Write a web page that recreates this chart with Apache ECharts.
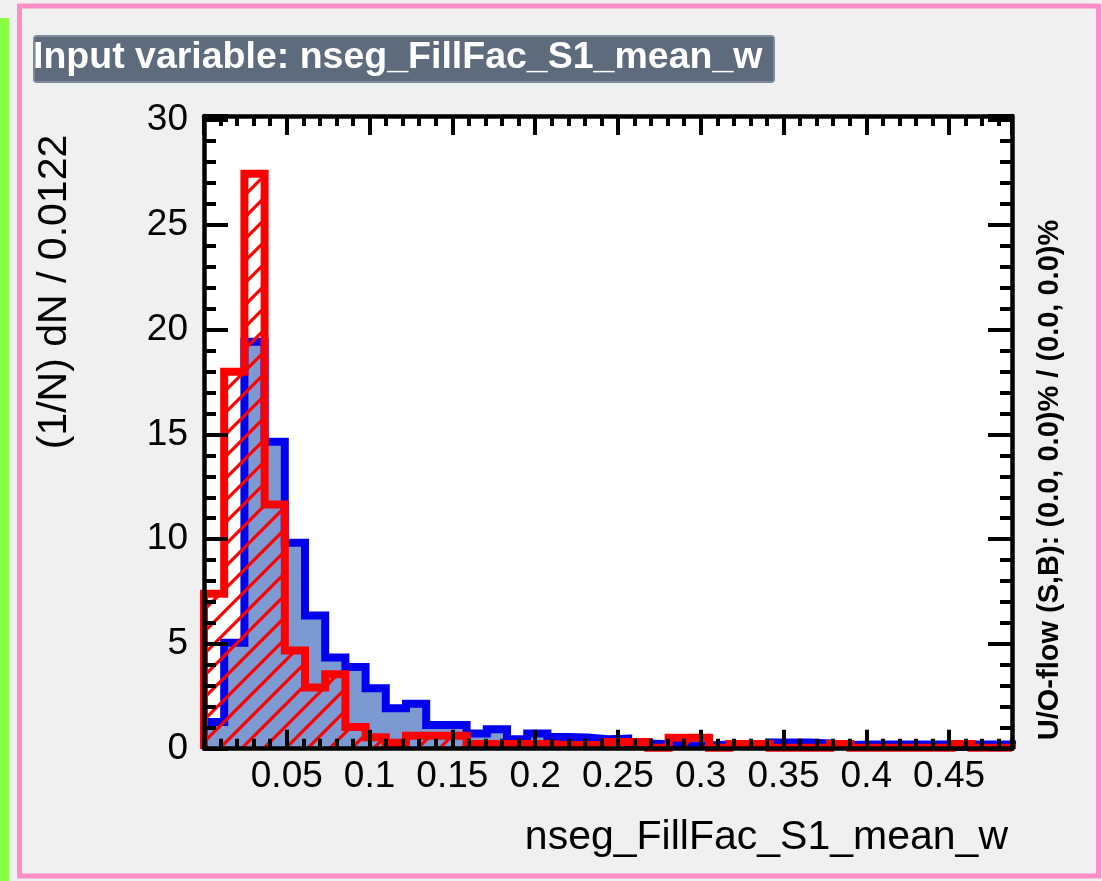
<!DOCTYPE html>
<html>
<head>
<meta charset="utf-8">
<script src="https://cdn.jsdelivr.net/npm/echarts@6/dist/echarts.min.js"></script>
<style>
html,body{margin:0;padding:0;background:#f0f0f0;}
#chart{width:1102px;height:881px;}
</style>
</head>
<body>
<div id="chart"></div>
<script>
// ---- data ----
const binWidth = 0.0122;
const xMin = 0;
const nBins = 40;
const signalValues = [1.27, 5.06, 19.42, 14.65, 9.83, 6.36, 4.35, 3.9, 2.88, 1.93,
  2.15, 1.13, 1.13, 0.72, 0.93, 0.45, 0.72, 0.56, 0.53, 0.45,
  0.48, 0.25, 0.21, 0.15, 0.15, 0.2, 0.18, 0.18, 0.3, 0.3,
  0.25, 0.18, 0.2, 0.2, 0.2, 0.2, 0.2, 0.08, 0.2, 0.2];
const backgroundValues = [7.4, 17.99, 27.44, 11.66, 4.69, 2.92, 3.55, 1.04, 0.55, 0.28,
  0.62, 0.62, 0.62, 0.22, 0.22, 0.22, 0.22, 0.18, 0.18, 0.18,
  0.32, 0.32, 0.05, 0.52, 0.52, 0.05, 0.22, 0.22, 0.05, 0.05,
  0.05, 0.22, 0.05, 0.05, 0.05, 0.05, 0.05, 0.22, 0.05, 0.05];
const xTickLabels = ['0.05', '0.1', '0.15', '0.2', '0.25', '0.3', '0.35', '0.4', '0.45'];
const yTickLabels = ['0', '5', '10', '15', '20', '25', '30'];
const titleText = 'Input variable: nseg_FillFac_S1_mean_w';
const xTitle = 'nseg_FillFac_S1_mean_w';
const yTitle = '(1/N) dN / 0.0122';
const flowText = 'U/O-flow (S,B): (0.0, 0.0)% / (0.0, 0.0)%';

// ---- build ----
const xMax = xMin + nBins * binWidth;
function stepPoints(vals) {
  const pts = [[xMin, 0]];
  for (let i = 0; i < vals.length; i++) pts.push([xMin + i * binWidth, vals[i]]);
  pts.push([xMax, vals[vals.length - 1]]);
  pts.push([xMax, 0]);
  return pts;
}

function hatchPattern() {
  const s = 22;
  const c = document.createElement('canvas');
  c.width = s; c.height = s;
  const ctx = c.getContext('2d');
  ctx.strokeStyle = '#ff0000';
  ctx.lineWidth = 3.2;
  for (const o of [-s, 0, s]) {
    ctx.beginPath();
    ctx.moveTo(o - 2, s + 2);
    ctx.lineTo(o + s + 2, -2);
    ctx.stroke();
  }
  return c;
}

const FONT = '"Liberation Sans", Arial, Helvetica, sans-serif';
const labelStyle = {color: '#000', fontSize: 37, fontFamily: FONT};

function xAxisDef(pos, interval, tickLen, showLabel, showLine) {
  return {
    type: 'value', position: pos, min: xMin, max: xMax, interval: interval, z: 5,
    axisLine: {show: showLine, onZero: false, lineStyle: {color: '#000', width: 4.5}},
    axisTick: {show: true, inside: true, length: tickLen, lineStyle: {color: '#000', width: 4}},
    axisLabel: showLabel ? Object.assign({
      margin: 10, showMinLabel: false, showMaxLabel: false,
      formatter: v => { const s = String(+v.toFixed(3)); return xTickLabels.includes(s) ? s : ''; }
    }, labelStyle) : {show: false},
    splitLine: {show: false}
  };
}
function yAxisDef(pos, interval, tickLen, showLabel, showLine) {
  return {
    type: 'value', position: pos, min: 0, max: 30.2, interval: interval, z: 5,
    axisLine: {show: showLine, onZero: false, lineStyle: {color: '#000', width: 4.5}},
    axisTick: {show: true, inside: true, length: tickLen, lineStyle: {color: '#000', width: 4}},
    axisLabel: showLabel ? Object.assign({
      margin: 16, padding: [5, 0, 0, 0],
      formatter: v => { const s = String(+v.toFixed(3)); return yTickLabels.includes(s) ? s : ''; }
    }, labelStyle) : {show: false},
    splitLine: {show: false}
  };
}

const chart = echarts.init(document.getElementById('chart'), null, {renderer: 'canvas'});
chart.setOption({
  animation: false,
  backgroundColor: '#f0f0f0',
  grid: {left: 204, top: 116, right: 90, bottom: 132.3, show: true, backgroundColor: '#ffffff', borderWidth: 0},
  xAxis: [
    xAxisDef('bottom', 0.05, 19, true, true),
    xAxisDef('bottom', 0.01, 10, false, false),
    xAxisDef('top', 0.05, 19, false, true),
    xAxisDef('top', 0.01, 10, false, false)
  ],
  yAxis: [
    yAxisDef('left', 5, 24, true, true),
    yAxisDef('left', 1, 12, false, false),
    yAxisDef('right', 5, 24, false, true),
    yAxisDef('right', 1, 12, false, false)
  ],
  series: [
    {
      type: 'line', name: 'Signal', xAxisIndex: 0, yAxisIndex: 0, step: 'end',
      data: stepPoints(signalValues), showSymbol: false, symbol: 'none', z: 2,
      lineStyle: {color: '#0000ee', width: 8, join: 'miter'},
      areaStyle: {color: '#7d99d1', opacity: 1}
    },
    {
      type: 'line', name: 'Background', xAxisIndex: 0, yAxisIndex: 0, step: 'end',
      data: stepPoints(backgroundValues), showSymbol: false, symbol: 'none', z: 3,
      lineStyle: {color: '#ff0000', width: 8, join: 'miter'},
      areaStyle: {color: {image: hatchPattern(), repeat: 'repeat'}, opacity: 1}
    }
  ],
  graphic: [
    {type: 'rect', shape: {x: 0, y: 18, width: 9, height: 863}, style: {fill: '#88ff44'}, silent: true},
    {type: 'rect', shape: {x: 19.5, y: 6, width: 1079, height: 870}, style: {fill: 'none', stroke: '#ff8ec6', lineWidth: 5}, silent: true},
    {type: 'rect', shape: {x: 34, y: 36, width: 740, height: 46, r: 3}, style: {fill: '#5d6b7d', stroke: '#7d8b9d', lineWidth: 2}, silent: true},
    {type: 'text', x: 33, y: 58, style: {text: titleText, fill: '#ffffff', font: 'bold 37.5px ' + FONT, textAlign: 'left', textVerticalAlign: 'middle'}, silent: true},
    {type: 'text', x: 1008, y: 838, style: {text: xTitle, fill: '#000', font: '41px ' + FONT, textAlign: 'right', textVerticalAlign: 'middle'}, silent: true},
    {type: 'text', x: 55, y: 292, rotation: Math.PI / 2, style: {text: yTitle, fill: '#000', font: '41px ' + FONT, textAlign: 'center', textVerticalAlign: 'middle'}, silent: true},
    {type: 'text', x: 1050, y: 480, rotation: Math.PI / 2, style: {text: flowText, fill: '#000', font: 'bold 29px ' + FONT, textAlign: 'center', textVerticalAlign: 'middle'}, silent: true}
  ]
});
</script>
</body>
</html>
